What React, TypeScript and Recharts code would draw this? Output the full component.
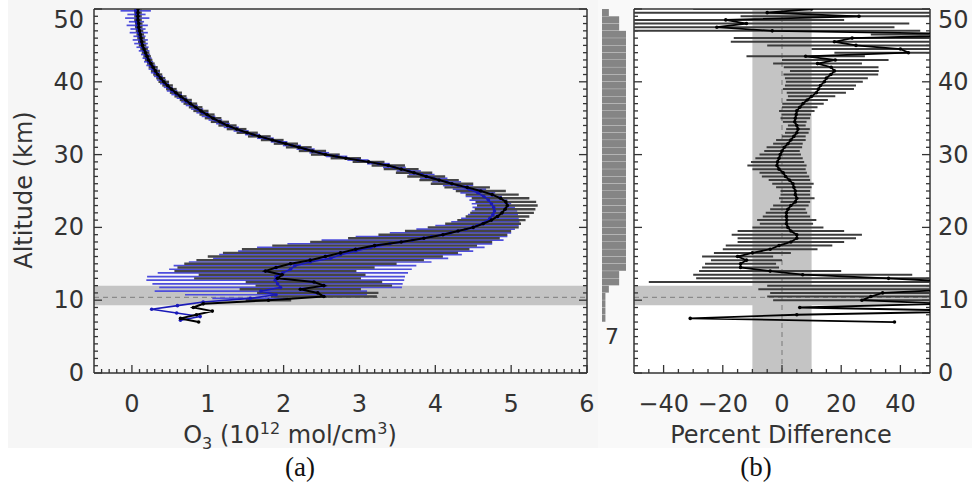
import React from 'react';
import {
  ComposedChart,
  Scatter,
  XAxis,
  YAxis,
  ErrorBar,
  ReferenceArea,
  ReferenceLine,
  BarChart,
  Bar,
} from 'recharts';

const FONT = '"DejaVu Sans", sans-serif';
const INK = '#333';

// panel (a): ozone profiles, black = reference, blue = satellite
const altBlack = [
  7, 7.5, 8, 8.5, 9, 9.5, 10, 10.5, 11, 11.5, 12, 12.5, 13, 13.5, 14, 14.5, 15, 15.5, 16, 16.5,
  17, 17.5, 18, 18.5, 19, 19.5, 20, 20.5, 21, 21.5, 22, 22.5, 23, 23.5, 24, 24.5, 25, 25.5, 26, 26.5,
  27, 27.5, 28, 28.5, 29, 29.5, 30, 30.5, 31, 31.5, 32, 32.5, 33, 33.5, 34, 34.5, 35, 35.5, 36, 36.5,
  37, 37.5, 38, 38.5, 39, 39.5, 40, 40.5, 41, 41.5, 42, 42.5, 43, 43.5, 44, 44.5, 45, 45.5, 46, 46.5,
  47, 47.5, 48, 48.5, 49, 49.5, 50,
];
const o3Black = [
  0.88, 0.64, 0.85, 1.06, 0.81, 0.94, 1.8, 2.53, 2.45, 2.22, 2.53, 2.4, 1.92, 1.98, 1.76, 1.9, 2.09, 2.35, 2.55, 2.75,
  2.95, 3.2, 3.55, 3.85, 4.1, 4.3, 4.5, 4.63, 4.74, 4.82, 4.88, 4.92, 4.95, 4.93, 4.86, 4.75, 4.6, 4.42, 4.22, 4.05,
  3.88, 3.72, 3.55, 3.38, 3.12, 2.82, 2.55, 2.38, 2.2, 2.03, 1.85, 1.68, 1.52, 1.38, 1.26, 1.16, 1.07, 0.99, 0.91, 0.84,
  0.77, 0.71, 0.64, 0.58, 0.52, 0.47, 0.42, 0.38, 0.34, 0.31, 0.28, 0.25, 0.22, 0.2, 0.18, 0.16, 0.14, 0.13, 0.12, 0.11,
  0.1, 0.09, 0.09, 0.08, 0.08, 0.08, 0.08,
];
const o3BlackErr = [
  0, 0, 0, 0, 0, 0, 0.3, 0.7, 0.8, 0.8, 0.9, 0.9, 1.1, 1.1, 1.2, 1.3, 1.4, 1.5, 1.55, 1.55,
  1.5, 1.35, 1.2, 1.0, 0.85, 0.7, 0.6, 0.5, 0.45, 0.42, 0.42, 0.4, 0.4, 0.4, 0.38, 0.35, 0.33, 0.3, 0.28, 0.26,
  0.25, 0.24, 0.23, 0.22, 0.21, 0.2, 0.19, 0.18, 0.17, 0.16, 0.15, 0.15, 0.14, 0.13, 0.12, 0.12, 0.11, 0.1, 0.1, 0.09,
  0.09, 0.08, 0.08, 0.08, 0.07, 0.07, 0.07, 0.06, 0.06, 0.06, 0.06, 0.05, 0.05, 0.05, 0.05, 0.05, 0.05, 0.05, 0.05, 0.05,
  0.05, 0.05, 0.05, 0.05, 0.05, 0.05, 0.05,
];

const altBlue = [
  7.25, 7.75, 8.25, 8.75, 9.25, 9.75, 10.25, 10.75, 11.25, 11.75, 12.25, 12.75, 13.25, 13.75, 14.25, 14.75, 15.25, 15.75, 16.25, 16.75,
  17.25, 17.75, 18.25, 18.75, 19.25, 19.75, 20.25, 20.75, 21.25, 21.75, 22.25, 22.75, 23.25, 23.75, 24.25, 24.75, 25.25, 25.75, 26.25, 26.75,
  27.25, 27.75, 28.25, 28.75, 29.25, 29.75, 30.25, 30.75, 31.25, 31.75, 32.25, 32.75, 33.25, 33.75, 34.25, 34.75, 35.25, 35.75, 36.25, 36.75,
  37.25, 37.75, 38.25, 38.75, 39.25, 39.75, 40.25, 40.75, 41.25, 41.75, 42.25, 42.75, 43.25, 43.75, 44.25, 44.75, 45.25, 45.75, 46.25, 46.75,
  47.25, 47.75, 48.25, 48.75, 49.25, 49.75,
];
const o3Blue = [
  0.64, 0.9, 0.59, 0.26, 0.6, 0.94, 1.56, 1.9, 1.7, 1.96, 1.92, 1.89, 1.9, 1.99, 2.09, 2.15, 2.35, 2.62, 2.75, 2.95,
  3.15, 3.4, 3.7, 3.95, 4.2, 4.4, 4.55, 4.66, 4.72, 4.76, 4.78, 4.77, 4.74, 4.7, 4.64, 4.56, 4.45, 4.3, 4.15, 3.98,
  3.82, 3.65, 3.46, 3.25, 2.98, 2.7, 2.47, 2.29, 2.11, 1.94, 1.76, 1.59, 1.44, 1.31, 1.2, 1.1, 1.01, 0.93, 0.86, 0.79,
  0.72, 0.66, 0.59, 0.53, 0.48, 0.43, 0.39, 0.35, 0.31, 0.28, 0.25, 0.22, 0.2, 0.18, 0.16, 0.14, 0.12, 0.11, 0.1, 0.09,
  0.08, 0.07, 0.06, 0.07, 0.06, 0.05,
];
const o3BlueErr = [
  0, 0, 0, 0, 0, 0, 0.5, 1.2, 1.4, 1.6, 1.65, 1.7, 1.7, 1.65, 1.6, 1.6, 1.6, 1.55, 1.6, 1.55,
  1.5, 1.35, 1.2, 1.0, 0.8, 0.65, 0.55, 0.45, 0.38, 0.33, 0.3, 0.28, 0.26, 0.25, 0.24, 0.23, 0.22, 0.2, 0.19, 0.18,
  0.17, 0.16, 0.15, 0.15, 0.14, 0.14, 0.13, 0.12, 0.12, 0.11, 0.11, 0.1, 0.1, 0.1, 0.09, 0.09, 0.09, 0.08, 0.08, 0.08,
  0.07, 0.07, 0.07, 0.07, 0.06, 0.06, 0.06, 0.06, 0.06, 0.06, 0.06, 0.06, 0.06, 0.06, 0.07, 0.08, 0.09, 0.1, 0.08, 0.12,
  0.1, 0.14, 0.1, 0.16, 0.12, 0.2,
];

// panel (b): percent difference on the black altitude grid
const diffPct = [
  38, -31, 5, 70, 6, 55, 27, 30, 34, 60, 65, 60, 36, 7, -4, -14, -14, -12, -15, -10,
  -4, -1, 3, 5, 5, 3, 2, 1.5, 1.6, 1.5, 1.5, 2, 3, 4.5, 5, 4.5, 4.5, 4, 3.7, 2.5,
  1.2, 0.4, -1, -1.7, -1.5, -1, -0.6, 0, 0.8, 2, 3, 4, 5, 5.4, 5, 4.3, 4.5, 4.8, 5, 6,
  7.1, 8.5, 10, 11.6, 12.3, 13, 14.3, 15, 16.5, 17.7, 16.6, 12, 18, 8, 42.7, 40, 25, 17.7, 23.7, 75,
  -3.3, -22, -12, -19, 26, -5, 10,
];
const diffErr = [
  0, 0, 0, 0, 0, 0, 30, 35, 38, 68, 70, 105, 65, 37, 24, 13, 12, 12, 12, 13,
  16, 18, 18, 20, 22, 18, 12, 9, 10, 8, 7, 6, 6, 5, 6, 5, 5, 6, 7, 7,
  8, 8, 9, 10, 9, 8, 7, 6, 6, 5, 5, 4, 4, 4, 3, 4, 5, 5, 6, 6,
  7, 7, 8, 10, 12, 12, 13, 14, 16, 15, 16, 15, 18, 20, 25, 30, 30, 35, 40, 45,
  50, 60, 55, 40, 40, 60, 40,
];

// number of coincident profiles per 1 km bin (top to bottom)
const histAlt = [
  49.5, 48.5, 47.5, 46.5, 45.5, 44.5, 43.5, 42.5, 41.5, 40.5, 39.5, 38.5, 37.5, 36.5, 35.5, 34.5, 33.5, 32.5, 31.5, 30.5,
  29.5, 28.5, 27.5, 26.5, 25.5, 24.5, 23.5, 22.5, 21.5, 20.5, 19.5, 18.5, 17.5, 16.5, 15.5, 14.5, 13.5, 12.5, 11.5, 10.5,
  9.5, 8.5, 7.5, 6.5, 5.5, 4.5, 3.5, 2.5, 1.5, 0.5,
];
const histCount = [
  2, 5, 5, 7, 7, 7, 7, 7, 7, 7, 7, 7, 7, 7, 7, 7, 7, 7, 7, 7,
  7, 7, 7, 7, 7, 7, 7, 7, 7, 7, 7, 7, 7, 7, 7, 7, 5, 5, 2, 1,
  1, 1, 1, 0, 0, 0, 0, 0, 0, 0,
];

const aXMajor = [0, 1, 2, 3, 4, 5, 6];
const altMajor = [0, 10, 20, 30, 40, 50];
const bXMajor = [-40, -20, 0, 20, 40];

const steps = (from: number, to: number, step: number) => {
  const out: number[] = [];
  for (let v = from; v <= to + 1e-9; v += step) out.push(Math.round(v * 100) / 100);
  return out;
};
const aXTicks = steps(-0.4, 6, 0.1);
const altTicks = steps(0, 50, 1);
const bXTicks = steps(-45, 45, 5);

const fmt = (v: number) => (v < 0 ? '\u2212' + Math.abs(v) : String(v));

type Side = 'bottom' | 'top' | 'left' | 'right';

const tickFactory = (side: Side, majors: number[], labels: boolean) => (props: any) => {
  const { x, y, payload } = props;
  const v = payload.value as number;
  const major = majors.some((m) => Math.abs(m - v) < 1e-6);
  const len = major ? 8 : 4;
  let line = null;
  let label = null;
  if (side === 'bottom') {
    line = <line x1={x} y1={y} x2={x} y2={y - len} />;
    if (labels && major)
      label = (
        <text x={x} y={y + 31} textAnchor="middle" dominantBaseline="central">
          {fmt(v)}
        </text>
      );
  } else if (side === 'top') {
    line = <line x1={x} y1={y} x2={x} y2={y + len} />;
  } else if (side === 'left') {
    line = <line x1={x} y1={y} x2={x + len} y2={y} />;
    if (labels && major)
      label = (
        <text x={x - 10} y={Math.max(y, 20)} textAnchor="end" dominantBaseline="central">
          {fmt(v)}
        </text>
      );
  } else {
    line = <line x1={x} y1={y} x2={x - len} y2={y} />;
    if (labels && major)
      label = (
        <text x={x + 8} y={Math.max(y, 20)} textAnchor="start" dominantBaseline="central">
          {fmt(v)}
        </text>
      );
  }
  return (
    <g>
      <g stroke={INK} strokeWidth={1.3}>{line}</g>
      {label && (
        <g fill={INK} fontSize={24} fontFamily={FONT}>
          {label}
        </g>
      )}
    </g>
  );
};

const zip = (alt: number[], v: number[], err: number[]) =>
  alt.map((a, i) => ({ alt: a, v: v[i], err: err[i] }));

const blackData = zip(altBlack, o3Black, o3BlackErr);
const blueData = zip(altBlue, o3Blue, o3BlueErr);
const diffData = zip(altBlack, diffPct, diffErr);
const histData = histAlt.map((a, i) => ({ alt: String(a), n: histCount[i] }));

const noDot = () => <g />;
const dot = (color: string) => (p: any) => <circle cx={p.cx} cy={p.cy} r={1.8} fill={color} />;

const axisLine = { stroke: INK, strokeWidth: 1.5 };

// box with inward ticks on all four sides
const frameAxes = (xDomain: number[], xTicks: number[], xMajor: number[], yLabelsSide: 'left' | 'right') => [
  <XAxis
    key="xb"
    type="number"
    dataKey="v"
    domain={xDomain}
    allowDataOverflow
    ticks={xTicks}
    interval={0}
    height={1}
    tickSize={0}
    tickMargin={0}
    tickLine={false}
    axisLine={axisLine}
    tick={tickFactory('bottom', xMajor, true)}
  />,
  <XAxis
    key="xt"
    xAxisId="top"
    orientation="top"
    type="number"
    domain={xDomain}
    allowDataOverflow
    ticks={xTicks}
    interval={0}
    height={1}
    tickSize={0}
    tickMargin={0}
    tickLine={false}
    axisLine={axisLine}
    tick={tickFactory('top', xMajor, false)}
  />,
  <YAxis
    key="yl"
    type="number"
    dataKey="alt"
    domain={[0, 50]}
    allowDataOverflow
    ticks={altTicks}
    interval={0}
    width={1}
    tickSize={0}
    tickMargin={0}
    tickLine={false}
    axisLine={axisLine}
    tick={tickFactory('left', altMajor, yLabelsSide === 'left')}
  />,
  <YAxis
    key="yr"
    yAxisId="right"
    orientation="right"
    type="number"
    domain={[0, 50]}
    allowDataOverflow
    ticks={altTicks}
    interval={0}
    width={1}
    tickSize={0}
    tickMargin={0}
    tickLine={false}
    axisLine={axisLine}
    tick={tickFactory('right', altMajor, yLabelsSide === 'right')}
  />,
];

// hidden axes for the clipped data layer
const dataAxes = (xDomain: number[]) => [
  <XAxis key="x" type="number" dataKey="v" domain={xDomain} allowDataOverflow hide />,
  <YAxis key="y" type="number" dataKey="alt" domain={[0, 50]} allowDataOverflow hide />,
];

const abs = (left: number, top: number): React.CSSProperties => ({ position: 'absolute', left, top });
const zero = { top: 0, right: 0, bottom: 0, left: 0 };

export default function App() {
  return (
    <div style={{ position: 'absolute', left: 0, top: 0, width: 972, height: 485, background: '#fff', overflow: 'hidden', fontFamily: FONT }}>
      <div style={{ ...abs(8, 0), width: 590, height: 448, background: '#f6f6f6' }} />
      <div style={{ ...abs(598, 0), width: 374, height: 448, background: '#f9f9f9' }} />
      <div style={{ ...abs(634, 9), width: 296, height: 364, background: '#fff' }} />

      {/* panel (a) frame */}
      <div style={abs(0, 0)}>
        <ComposedChart width={600} height={485} margin={{ top: 8, right: 12, bottom: 111, left: 93 }}>
          {frameAxes([-0.5, 6], aXTicks, aXMajor, 'left')}
          <ReferenceArea y1={9.3} y2={12} fill="#c4c4c4" fillOpacity={1} stroke="none" />
          <ReferenceLine y={10.4} stroke="#8a8a8a" strokeWidth={1.3} strokeDasharray="5 4" />
        </ComposedChart>
      </div>
      {/* panel (a) data */}
      <div style={{ ...abs(94, 9), width: 493, height: 364, overflow: 'hidden' }}>
        <ComposedChart width={493} height={364} margin={zero}>
          {dataAxes([-0.5, 6])}
          <Scatter data={blueData} shape={noDot} isAnimationActive={false}>
            <ErrorBar dataKey="err" direction="x" width={0} stroke="#4d4ddc" strokeWidth={1.7} isAnimationActive={false} />
          </Scatter>
          <Scatter data={blackData} shape={noDot} isAnimationActive={false}>
            <ErrorBar dataKey="err" direction="x" width={0} stroke="#454545" strokeWidth={2.4} isAnimationActive={false} />
          </Scatter>
          <Scatter data={blueData} line={{ stroke: '#1a1ab8', strokeWidth: 1.6 }} shape={dot('#1a1ab8')} isAnimationActive={false} />
          <Scatter data={blackData} line={{ stroke: '#000', strokeWidth: 2 }} shape={dot('#000')} isAnimationActive={false} />
        </ComposedChart>
      </div>

      {/* coincidence histogram */}
      <div style={abs(602, 9)}>
        <BarChart width={24} height={364} layout="vertical" data={histData} barCategoryGap={0} margin={zero}>
          <XAxis type="number" domain={[0, 7]} hide />
          <YAxis type="category" dataKey="alt" hide />
          <Bar dataKey="n" fill="#858585" isAnimationActive={false} />
        </BarChart>
      </div>
      <div style={{ ...abs(605, 324), fontSize: 22, color: INK }}>7</div>

      {/* panel (b) frame */}
      <div style={abs(600, 0)}>
        <ComposedChart width={372} height={485} margin={{ top: 8, right: 41, bottom: 111, left: 33 }}>
          {frameAxes([-50, 50], bXTicks, bXMajor, 'right')}
          <ReferenceArea x1={-10} x2={10} fill="#c4c4c4" fillOpacity={1} stroke="none" />
          <ReferenceArea y1={9.3} y2={12} fill="#c4c4c4" fillOpacity={1} stroke="none" />
          <ReferenceLine x={0} stroke="#8a8a8a" strokeWidth={1.3} strokeDasharray="5 4" />
          <ReferenceLine y={10.4} stroke="#8a8a8a" strokeWidth={1.3} strokeDasharray="5 4" />
        </ComposedChart>
      </div>
      {/* panel (b) data */}
      <div style={{ ...abs(634, 9), width: 296, height: 364, overflow: 'hidden' }}>
        <ComposedChart width={296} height={364} margin={zero}>
          {dataAxes([-50, 50])}
          <Scatter data={diffData} shape={noDot} isAnimationActive={false}>
            <ErrorBar dataKey="err" direction="x" width={0} stroke="#3c3c3c" strokeWidth={2} isAnimationActive={false} />
          </Scatter>
          <Scatter data={diffData} line={{ stroke: '#000', strokeWidth: 1.8 }} shape={dot('#000')} isAnimationActive={false} />
        </ComposedChart>
      </div>

      {/* axis titles */}
      <div
        style={{
          ...abs(24, 190),
          transform: 'translate(-50%, -50%) rotate(-90deg)',
          fontSize: 24,
          color: INK,
          whiteSpace: 'nowrap',
        }}
      >
        Altitude (km)
      </div>
      <div style={{ ...abs(290, 436), transform: 'translate(-50%, -50%)', fontSize: 24, color: INK, whiteSpace: 'nowrap' }}>
        O<sub style={{ fontSize: 16 }}>3</sub> (10<sup style={{ fontSize: 16 }}>12</sup> mol/cm<sup style={{ fontSize: 16 }}>3</sup>)
      </div>
      <div style={{ ...abs(781, 435), transform: 'translate(-50%, -50%)', fontSize: 24, color: INK, whiteSpace: 'nowrap' }}>
        Percent Difference
      </div>
      <div style={{ ...abs(300, 467), transform: 'translate(-50%, -50%)', fontSize: 27, fontFamily: '"Liberation Serif", serif', color: '#111' }}>
        (a)
      </div>
      <div style={{ ...abs(756, 467), transform: 'translate(-50%, -50%)', fontSize: 27, fontFamily: '"Liberation Serif", serif', color: '#111' }}>
        (b)
      </div>
    </div>
  );
}
